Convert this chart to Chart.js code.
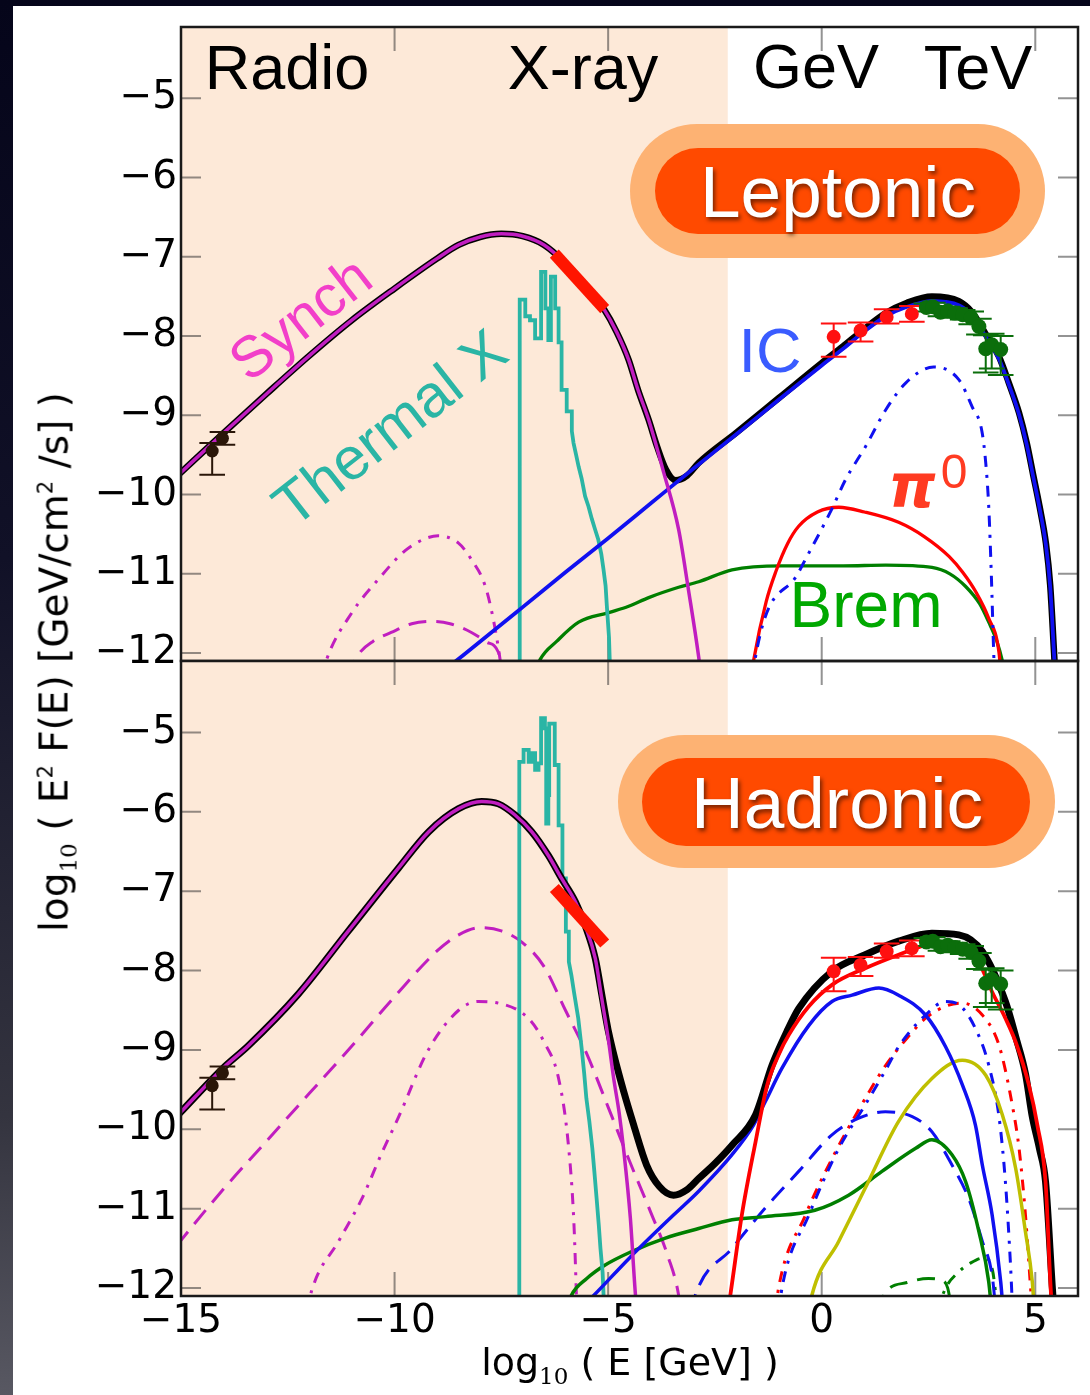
<!DOCTYPE html>
<html>
<head>
<meta charset="utf-8">
<script src="https://cdn.jsdelivr.net/npm/chart.js@4.4.0/dist/chart.umd.min.js"></script>
<style>
  html, body { margin: 0; padding: 0; }
  body {
    width: 1090px; height: 1395px; overflow: hidden; position: relative;
    background: linear-gradient(to bottom, #05051a 0%, #111127 40%, #34343f 80%, #585862 100%);
  }
  #sheet { position: absolute; left: 13px; top: 6px; width: 1077px; height: 1389px; background: #fff; }
  canvas { position: absolute; left: 0; }
  #lepCanvas { top: 0; }
  #hadCanvas { top: 655px; }
  .lbl {
    position: absolute; transform: translate(-50%, -50%); white-space: nowrap; line-height: 1;
    font-family: 'Liberation Sans', Arial, sans-serif;
  }
  .band { font-size: 63px; color: #000; }
  .pill { position: absolute; background: #fdb273; }
  .pill.inner { background: #ff4a00; }
  .badge { font-size: 73px; color: #fff; text-shadow: 2px 3px 4px rgba(0,0,0,0.55); }
  .axis { font-family: 'DejaVu Sans', sans-serif; font-size: 38px; color: #000; }
  .axis sub { font-family: 'DejaVu Serif', serif; font-size: 23px; vertical-align: -9px; line-height: 0; }
  .axis sup { font-size: 21px; vertical-align: 15px; line-height: 0; }
</style>
</head>
<body>
<div id="sheet"></div>
<canvas id="lepCanvas" width="1090" height="665"></canvas>
<canvas id="hadCanvas" width="1090" height="740"></canvas>

<div class="lbl band" style="left:287px; top:67px;">Radio</div>
<div class="lbl band" style="left:583px; top:67px;">X-ray</div>
<div class="lbl band" style="left:816px; top:66px;">GeV</div>
<div class="lbl band" style="left:978px; top:67px;">TeV</div>

<div class="pill" style="left:630px; top:124px; width:415px; height:134px; border-radius:67px;"></div>
<div class="pill inner" style="left:655px; top:148px; width:365px; height:86px; border-radius:43px;"></div>
<div class="lbl badge" style="left:838px; top:191px;">Leptonic</div>

<div class="pill" style="left:618px; top:735px; width:437px; height:133px; border-radius:67px;"></div>
<div class="pill inner" style="left:642px; top:758px; width:388px; height:88px; border-radius:44px;"></div>
<div class="lbl badge" style="left:837px; top:802px;">Hadronic</div>

<div class="lbl" style="left:300px; top:318px; font-size:58px; color:#f23fc9; transform:translate(-50%,-50%) rotate(-38deg);">Synch</div>
<div class="lbl" style="left:390px; top:428px; font-size:60px; color:#2ab5a5; transform:translate(-50%,-50%) rotate(-38deg);">Thermal X</div>
<div class="lbl" style="left:770px; top:350px; font-size:63px; color:#3a5cff;">IC</div>
<div class="lbl" style="left:912px; top:486px; font-size:60px; color:#ff3b22; font-family:'DejaVu Sans',sans-serif; font-weight:bold; font-style:italic;">π</div>
<div class="lbl" style="left:954px; top:472px; font-size:48px; color:#ff3b22;">0</div>
<div class="lbl" style="left:866px; top:605px; font-size:64px; color:#00a800;">Brem</div>

<div class="lbl axis" style="left:630px; top:1362px;">log<sub>10</sub> ( E [GeV] )</div>
<div class="lbl axis" style="left:54px; top:662px; font-size:39px; transform:translate(-50%,-50%) rotate(-90deg);">log<sub>10</sub> ( E<sup>2</sup> F(E) [GeV/cm<sup>2</sup> /s] )</div>

<script>
// axis ranges and tick labels
const xMin = -15, xMax = 6;
const yMin = -12.1, yMax = -4.1;
const xTicks = [-15, -10, -5, 0, 5];
const yTicks = [-12, -11, -10, -9, -8, -7, -6, -5];
const xrayBandEnd = -2.2;

// ---- Leptonic model curves: [log10 E, log10 E^2 F] ----
const lepTotal = [[-15.3,-9.87],[-15,-9.72],[-14,-9.22],[-13,-8.73],[-12,-8.25],[-11,-7.8],[-10,-7.4],[-9,-7.02],[-8.5,-6.85],[-8,-6.75],[-7.5,-6.71],[-7,-6.74],[-6.5,-6.85],[-6,-7.08],[-5.5,-7.38],[-5.11,-7.65],[-4.8,-7.95],[-4.52,-8.3],[-4.3,-8.68],[-4.05,-9.06],[-3.85,-9.4],[-3.65,-9.68],[-3.42,-9.82],[-3.15,-9.76],[-2.88,-9.6],[-2,-9.22],[-1,-8.78],[0,-8.34],[0.5,-8.13],[1,-7.91],[1.5,-7.71],[2,-7.58],[2.58,-7.5],[3.21,-7.56],[3.52,-7.7],[3.91,-8.04],[4.15,-8.26],[4.38,-8.59],[4.62,-8.97],[4.8,-9.35],[4.95,-9.75],[5.1,-10.15],[5.25,-10.62],[5.35,-11.15],[5.44,-12.0],[5.48,-12.4]];
const lepSynch = [[-15.3,-9.87],[-15,-9.72],[-14,-9.22],[-13,-8.73],[-12,-8.25],[-11,-7.8],[-10,-7.4],[-9,-7.02],[-8.5,-6.85],[-8,-6.75],[-7.5,-6.71],[-7,-6.74],[-6.5,-6.85],[-6,-7.08],[-5.5,-7.38],[-5.11,-7.65],[-4.8,-7.95],[-4.52,-8.3],[-4.3,-8.68],[-4.05,-9.06],[-3.7,-9.72],[-3.35,-10.44],[-3.12,-11.2],[-2.88,-12.05],[-2.8,-12.4]];
const lepSynchA = [[-11.7,-12.3],[-11.59,-12.08],[-11.0,-11.49],[-10.38,-11.07],[-9.76,-10.71],[-9.3,-10.56],[-8.98,-10.52],[-8.51,-10.61],[-8.2,-10.82],[-7.88,-11.15],[-7.69,-11.57],[-7.53,-12.08],[-7.48,-12.3]];
const lepSynchB = [[-11.1,-12.3],[-10.85,-12.02],[-10.5,-11.85],[-10.08,-11.74],[-9.6,-11.63],[-9.14,-11.6],[-8.7,-11.63],[-8.2,-11.74],[-7.85,-11.86],[-7.57,-11.99],[-7.45,-12.3]];
const lepIC = [[-8.8,-12.2],[-8.4,-12.03],[-7,-11.42],[-6,-10.98],[-5,-10.55],[-4,-10.11],[-3,-9.67],[-2,-9.24],[-1,-8.8],[0,-8.37],[0.5,-8.16],[1,-7.94],[1.5,-7.75],[2,-7.63],[2.58,-7.56],[3.21,-7.61],[3.52,-7.74],[3.91,-8.07],[4.15,-8.29],[4.38,-8.61],[4.62,-8.99],[4.8,-9.37],[4.95,-9.77],[5.1,-10.17],[5.25,-10.64],[5.35,-11.17],[5.44,-12.02],[5.48,-12.4]];
const lepICDot = [[-1.6,-12.3],[-1.55,-12.05],[-0.54,-10.98],[0.23,-10.19],[0.56,-9.81],[1.03,-9.39],[1.5,-8.93],[1.97,-8.59],[2.62,-8.39],[3.21,-8.55],[3.52,-8.89],[3.75,-9.2],[3.84,-9.6],[3.91,-10.15],[3.97,-11.0],[4.03,-12.05],[4.05,-12.3]];
const lepPi0 = [[-1.65,-12.3],[-1.59,-12.08],[-1.3,-11.35],[-1.08,-10.98],[-0.8,-10.62],[-0.54,-10.4],[-0.1,-10.22],[0.4,-10.16],[1.0,-10.22],[1.8,-10.35],[2.4,-10.53],[2.98,-10.78],[3.3,-10.98],[3.61,-11.23],[3.9,-11.55],[4.15,-11.99],[4.2,-12.3]];
const lepBrem = [[-6.75,-12.3],[-6.59,-12.08],[-6.2,-11.85],[-5.69,-11.61],[-4.99,-11.49],[-4.52,-11.41],[-4.05,-11.3],[-3.35,-11.17],[-2.88,-11.1],[-2.1,-10.95],[-0.94,-10.9],[0.5,-10.9],[1.5,-10.89],[2.58,-10.92],[3.0,-11.0],[3.37,-11.16],[3.7,-11.38],[3.91,-11.61],[4.1,-11.85],[4.22,-12.08],[4.3,-12.3]];
const lepThermal = [[-7.07,-12.3],[-7.07,-7.54],[-6.94,-7.54],[-6.94,-7.75],[-6.83,-7.75],[-6.83,-7.8],[-6.71,-7.8],[-6.71,-8.03],[-6.57,-8.03],[-6.57,-7.19],[-6.47,-7.19],[-6.47,-7.65],[-6.4,-7.65],[-6.4,-8.05],[-6.34,-8.05],[-6.34,-7.25],[-6.24,-7.25],[-6.24,-7.65],[-6.16,-7.65],[-6.16,-8.08],[-6.09,-8.08],[-6.09,-8.68],[-5.97,-8.68],[-5.97,-8.95],[-5.85,-8.95],[-5.85,-9.2],[-5.81,-9.35],[-5.75,-9.5],[-5.69,-9.65],[-5.62,-9.8],[-5.54,-10.02],[-5.46,-10.15],[-5.38,-10.31],[-5.3,-10.45],[-5.23,-10.57],[-5.16,-10.75],[-5.11,-10.94],[-5.06,-11.15],[-5.03,-11.41],[-4.98,-11.8],[-4.95,-12.3]];

// ---- Hadronic model curves ----
const hadTotal = [[-15.3,-9.95],[-15,-9.78],[-14,-9.22],[-13.43,-8.95],[-12.26,-8.3],[-11.08,-7.5],[-9.91,-6.71],[-9.2,-6.25],[-8.5,-5.96],[-7.96,-5.87],[-7.57,-5.9],[-7.18,-6.04],[-6.79,-6.25],[-6.4,-6.55],[-6.09,-6.84],[-5.77,-7.13],[-5.54,-7.43],[-5.3,-7.85],[-5.15,-8.3],[-5.0,-8.75],[-4.7,-9.4],[-4.4,-9.95],[-4.1,-10.45],[-3.8,-10.72],[-3.47,-10.83],[-3.15,-10.76],[-2.88,-10.62],[-2.5,-10.43],[-2.1,-10.2],[-1.55,-9.82],[-1.16,-9.19],[-0.8,-8.75],[-0.54,-8.48],[0.24,-8.01],[1.02,-7.8],[1.8,-7.63],[2.58,-7.53],[3.21,-7.55],[3.76,-7.76],[4.3,-8.39],[4.55,-8.85],[4.77,-9.3],[4.93,-9.84],[5.1,-10.25],[5.24,-10.66],[5.4,-12.0],[5.45,-12.4]];
const hadSynch = [[-15.3,-9.95],[-15,-9.78],[-14,-9.22],[-13.43,-8.95],[-12.26,-8.3],[-11.08,-7.5],[-9.91,-6.71],[-9.2,-6.25],[-8.5,-5.96],[-7.96,-5.87],[-7.57,-5.9],[-7.18,-6.04],[-6.79,-6.25],[-6.4,-6.55],[-6.09,-6.84],[-5.77,-7.13],[-5.54,-7.43],[-5.3,-7.85],[-5.15,-8.35],[-5.0,-8.85],[-4.87,-9.36],[-4.74,-9.8],[-4.64,-10.24],[-4.48,-11.12],[-4.36,-12.09],[-4.32,-12.3]];
const hadSynchA = [[-12.05,-12.3],[-11.94,-12.03],[-11.3,-11.4],[-10.77,-10.88],[-10.3,-10.3],[-9.91,-9.85],[-9.21,-9.0],[-8.5,-8.5],[-8.04,-8.39],[-7.57,-8.41],[-6.87,-8.6],[-6.5,-8.9],[-6.16,-9.36],[-5.93,-10.2],[-5.8,-11.2],[-5.73,-12.3]];
const hadSynchB = [[-15.1,-11.47],[-15,-11.4],[-14,-10.75],[-13,-10.15],[-12,-9.55],[-11,-8.95],[-10,-8.33],[-9,-7.75],[-8.5,-7.55],[-8,-7.46],[-7.5,-7.5],[-7,-7.65],[-6.5,-7.95],[-6,-8.5],[-5.5,-9.05],[-5,-9.72],[-4.5,-10.4],[-4,-11.05],[-3.6,-11.6],[-3.35,-12.09],[-3.3,-12.3]];
const hadPi0 = [[-2.2,-12.3],[-2.14,-12.09],[-1.87,-11.08],[-1.55,-10.16],[-1.28,-9.45],[-1.0,-9.05],[-0.77,-8.81],[-0.3,-8.45],[0.24,-8.18],[1.02,-7.97],[1.8,-7.8],[2.43,-7.68],[2.9,-7.64],[3.3,-7.7],[3.7,-7.92],[3.99,-8.27],[4.3,-8.6],[4.54,-8.9],[4.85,-9.44],[5.05,-9.95],[5.24,-10.66],[5.36,-12.0],[5.4,-12.3]];
const hadPi0Dot = [[-1.08,-12.3],[-1.01,-12.0],[-0.38,-11.08],[0.24,-10.37],[0.87,-9.75],[1.49,-9.2],[2.0,-8.85],[2.43,-8.6],[2.9,-8.45],[3.29,-8.41],[3.76,-8.56],[4.15,-8.94],[4.46,-9.69],[4.62,-10.24],[4.77,-11.08],[4.89,-12.0],[4.93,-12.3]];
const hadIC = [[-5.6,-12.23],[-5.35,-12.1],[-4.5,-11.62],[-3.47,-11.08],[-2.88,-10.78],[-2.1,-10.32],[-1.6,-9.95],[-1.32,-9.65],[-0.93,-9.23],[-0.3,-8.69],[0.24,-8.39],[0.71,-8.31],[1.34,-8.22],[1.8,-8.31],[2.43,-8.56],[2.9,-8.96],[3.3,-9.45],[3.6,-9.95],[3.76,-10.45],[3.99,-11.08],[4.19,-11.92],[4.25,-12.3]];
const hadICDash = [[-3.05,-12.3],[-2.96,-12.09],[-2.1,-11.5],[-1.32,-10.99],[-0.54,-10.53],[0.24,-10.07],[0.87,-9.86],[1.49,-9.78],[2.12,-9.84],[2.58,-10.03],[3.05,-10.45],[3.44,-10.87],[3.76,-11.41],[3.99,-11.84],[4.08,-12.3]];
const hadICDot = [[-1.0,-12.3],[-0.93,-12.0],[-0.3,-11.08],[0.4,-10.24],[1.02,-9.69],[1.5,-9.25],[1.8,-8.96],[2.43,-8.56],[2.9,-8.39],[3.21,-8.43],[3.6,-8.73],[3.91,-9.19],[4.15,-9.84],[4.3,-10.66],[4.42,-11.71],[4.47,-12.3]];
const hadSecondary = [[-0.3,-12.3],[-0.23,-12.09],[0.4,-11.41],[1.02,-10.74],[1.8,-9.9],[2.58,-9.36],[3.29,-9.13],[3.84,-9.32],[4.23,-9.82],[4.54,-10.49],[4.77,-11.29],[4.93,-11.92],[4.98,-12.3]];
const hadBrem = [[-6.0,-12.3],[-5.86,-12.09],[-5.5,-11.88],[-5.07,-11.71],[-4.45,-11.54],[-3.66,-11.37],[-2.88,-11.25],[-2.1,-11.14],[-1.32,-11.1],[-0.16,-11.02],[0.63,-10.83],[1.41,-10.53],[2.2,-10.24],[2.58,-10.13],[3.05,-10.32],[3.37,-10.66],[3.68,-11.29],[3.91,-11.92],[3.98,-12.3]];
const hadBremDash = [[1.3,-12.3],[1.5,-12.05],[2.0,-11.93],[2.5,-11.88],[2.8,-11.9],[2.95,-12.0],[3.05,-12.3]];
const hadBremDot = [[2.7,-12.3],[2.9,-12.0],[3.2,-11.8],[3.5,-11.68],[3.8,-11.62],[4.0,-11.78],[4.12,-12.3]];
const hadThermal = [[-7.08,-12.3],[-7.08,-5.37],[-6.98,-5.37],[-6.98,-5.22],[-6.86,-5.22],[-6.86,-5.37],[-6.78,-5.37],[-6.78,-5.26],[-6.71,-5.26],[-6.71,-5.47],[-6.63,-5.47],[-6.63,-5.39],[-6.57,-5.39],[-6.57,-4.82],[-6.48,-4.82],[-6.48,-4.95],[-6.45,-4.95],[-6.45,-6.15],[-6.4,-6.15],[-6.4,-5.79],[-6.38,-5.79],[-6.38,-4.89],[-6.25,-4.89],[-6.25,-5.41],[-6.16,-5.41],[-6.16,-6.17],[-6.07,-6.17],[-6.07,-6.84],[-5.99,-6.84],[-5.99,-7.51],[-5.92,-7.51],[-5.92,-7.89],[-5.86,-8.06],[-5.8,-8.27],[-5.7,-8.6],[-5.62,-8.98],[-5.56,-9.3],[-5.51,-9.61],[-5.44,-9.9],[-5.37,-10.24],[-5.32,-10.55],[-5.27,-10.87],[-5.22,-11.2],[-5.18,-11.5],[-5.13,-11.8],[-5.09,-12.3]];

// ---- Observations ----
const radioE = [-14.27, -14.03];
const radioF = [-9.45, -9.29];
const radioUp = [0.1, 0.08];
const radioDn = [0.3, 0.08];
const xrayE = [-6.26, -5.08];
const xrayF = [-6.96, -7.66];
const fermiE = [0.28, 0.91, 1.52, 2.11];
const fermiF = [-8.01, -7.93, -7.76, -7.72];
const fermiUp = [0.17, 0.1, 0.1, 0.1];
const fermiDn = [0.25, 0.14, 0.08, 0.1];
const hessE = [2.45, 2.6, 2.78, 2.95, 3.12, 3.3, 3.5, 3.68, 3.84, 3.98, 4.19];
const hessF = [-7.64, -7.63, -7.7, -7.68, -7.71, -7.73, -7.77, -7.88, -8.16, -8.11, -8.17];
const hessUp = [0.05, 0.05, 0.05, 0.05, 0.06, 0.06, 0.08, 0.1, 0.17, 0.14, 0.17];
const hessDn = [0.05, 0.05, 0.05, 0.05, 0.06, 0.06, 0.08, 0.1, 0.3, 0.3, 0.32];
const capHalf = 0.3;

const MAGENTA = '#c01ec0', BLUE = '#1010f0', RED = '#ff0000', GREEN = '#007f00',
      TEAL = '#2ab5a5', OLIVE = '#bfbf00';
const DASH = [18, 10], DASHDOT = [11, 8, 3, 8];

Chart.defaults.font.family = "'DejaVu Sans', sans-serif";

const pts = arr => arr.map(([x, y]) => ({ x, y }));

function curve(arr, color, width, order, dash, smooth = true) {
    return {
        data: pts(arr), borderColor: color, borderWidth: width, borderDash: dash || [],
        pointRadius: 0, fill: false, clip: 0, order,
        cubicInterpolationMode: smooth ? 'monotone' : 'default', tension: 0
    };
}

function errorBars(E, F, up, dn, color, order) {
    const d = [];
    E.forEach((e, i) => {
        const hi = F[i] + up[i], lo = F[i] - dn[i];
        d.push({ x: e, y: lo }, { x: e, y: hi }, { x: e, y: null });
        d.push({ x: e - capHalf, y: hi }, { x: e + capHalf, y: hi }, { x: e, y: null });
        d.push({ x: e - capHalf, y: lo }, { x: e + capHalf, y: lo }, { x: e, y: null });
    });
    return { data: d, borderColor: color, borderWidth: 2, pointRadius: 0, tension: 0, spanGaps: false, clip: 0, order };
}

function markers(E, F, color, r, order) {
    return {
        data: E.map((e, i) => ({ x: e, y: F[i] })), showLine: false, pointRadius: r,
        pointBackgroundColor: color, pointBorderColor: color, pointBorderWidth: 0, order
    };
}

function observations() {
    return [
        { ...curve(xrayE.map((e, i) => [e, xrayF[i]]), '#ff1500', 12, 9, null, false), borderCapStyle: 'butt' },
        errorBars(radioE, radioF, radioUp, radioDn, '#2a1608', 4),
        errorBars(fermiE, fermiF, fermiUp, fermiDn, '#ff1010', 4),
        errorBars(hessE, hessF, hessUp, hessDn, '#0b6e0b', 3),
        markers(radioE, radioF, '#2a1608', 6.5, 2),
        markers(fermiE, fermiF, '#ff1010', 7, 2),
        markers(hessE, hessF, '#0b6e0b', 7.5, 1)
    ];
}

// background band, inward ticks and frame
const panelDecor = {
    id: 'panelDecor',
    beforeDatasetsDraw(chart) {
        const { ctx, chartArea: a, scales: { x, y } } = chart;
        ctx.save();
        ctx.fillStyle = '#fde9d8';
        ctx.fillRect(a.left, a.top, x.getPixelForValue(xrayBandEnd) - a.left, a.bottom - a.top);
        ctx.strokeStyle = 'rgba(40,40,40,0.5)';
        ctx.lineWidth = 2;
        ctx.beginPath();
        xTicks.forEach(v => {
            const px = x.getPixelForValue(v);
            ctx.moveTo(px, a.bottom); ctx.lineTo(px, a.bottom - 24);
            ctx.moveTo(px, a.top); ctx.lineTo(px, a.top + 24);
        });
        yTicks.forEach(v => {
            const py = y.getPixelForValue(v);
            ctx.moveTo(a.left, py); ctx.lineTo(a.left + 20, py);
            ctx.moveTo(a.right, py); ctx.lineTo(a.right - 20, py);
        });
        ctx.stroke();
        ctx.restore();
    },
    afterDatasetsDraw(chart) {
        const { ctx, chartArea: a } = chart;
        ctx.save();
        ctx.strokeStyle = '#1a1a1a';
        ctx.lineWidth = 2.5;
        ctx.strokeRect(a.left, a.top, a.right - a.left, a.bottom - a.top);
        ctx.restore();
    }
};

const fmt = v => (v < 0 ? '\u2212' + Math.abs(v) : String(v));

function buildPanel(id, datasets, withXLabels) {
    const padding = withXLabels
        ? { top: 6, right: 12, left: 0, bottom: 0 }
        : { top: 27, right: 12, left: 0, bottom: 4 };
    return new Chart(document.getElementById(id), {
        type: 'line',
        data: { datasets },
        plugins: [panelDecor],
        options: {
            responsive: false,
            animation: false,
            events: [],
            layout: { padding, autoPadding: false },
            plugins: { legend: { display: false }, tooltip: { enabled: false } },
            scales: {
                x: {
                    type: 'linear', min: xMin, max: xMax, display: withXLabels,
                    afterBuildTicks: s => { s.ticks = xTicks.map(v => ({ value: v })); },
                    afterFit: s => {
                        s.height = withXLabels ? 99 : 0;
                        s.paddingLeft = 0; s.paddingRight = 0;
                    },
                    grid: { display: false, drawTicks: false },
                    border: { display: false },
                    ticks: { color: '#000', font: { size: 39 }, padding: 2, maxRotation: 0, autoSkip: false, callback: v => fmt(v) }
                },
                y: {
                    type: 'linear', min: yMin, max: yMax,
                    afterBuildTicks: s => { s.ticks = yTicks.map(v => ({ value: v })); },
                    afterFit: s => {
                        s.width = 181;
                        s.paddingTop = 0; s.paddingBottom = 0;
                    },
                    grid: { display: false, drawTicks: false },
                    border: { display: false },
                    ticks: { color: '#000', font: { size: 39 }, padding: 4, autoSkip: false, callback: v => fmt(v) }
                }
            }
        }
    });
}

document.addEventListener('DOMContentLoaded', function () {
    // Leptonic panel
    buildPanel('lepCanvas', [
        ...observations(),
        curve(lepSynch, MAGENTA, 3.5, 13),
        curve(lepIC, BLUE, 3.8, 14),
        curve(lepTotal, '#000', 6.5, 15),
        curve(lepThermal, TEAL, 3.8, 16, null, false),
        curve(lepICDot, BLUE, 3, 17, DASHDOT),
        curve(lepPi0, RED, 3.3, 18),
        curve(lepBrem, GREEN, 3.3, 19),
        curve(lepSynchA, MAGENTA, 3, 20, DASHDOT),
        curve(lepSynchB, MAGENTA, 3, 20, DASH)
    ], false);

    // Hadronic panel
    buildPanel('hadCanvas', [
        ...observations(),
        curve(hadSynch, MAGENTA, 3.5, 13),
        curve(hadPi0, RED, 3.8, 14),
        curve(hadTotal, '#000', 7, 15),
        curve(hadIC, BLUE, 3.5, 16),
        curve(hadThermal, TEAL, 3.8, 17, null, false),
        curve(hadSecondary, OLIVE, 3.5, 18),
        curve(hadBrem, GREEN, 3.5, 18),
        curve(hadICDash, BLUE, 3, 19, DASH),
        curve(hadICDot, BLUE, 3, 19, DASHDOT),
        curve(hadPi0Dot, RED, 3, 19, DASHDOT),
        curve(hadBremDash, GREEN, 3, 20, DASH),
        curve(hadBremDot, GREEN, 3, 20, DASHDOT),
        curve(hadSynchA, MAGENTA, 3, 20, DASHDOT),
        curve(hadSynchB, MAGENTA, 3, 20, DASH)
    ], true);
});
</script>
</body>
</html>
